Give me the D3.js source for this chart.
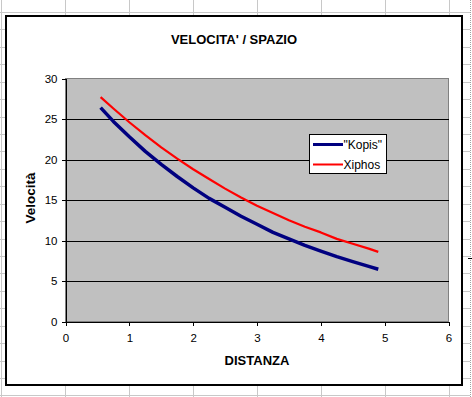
<!DOCTYPE html>
<html>
<head>
<meta charset="utf-8">
<script src="https://cdn.jsdelivr.net/npm/d3@7"></script>
<style>
  html, body { margin: 0; padding: 0; background: #fff; }
  svg { display: block; }
  text { font-family: Arial, "Liberation Sans", sans-serif; }
</style>
</head>
<body>
<script>
// ---- data ----
const distanza = [0.55, 0.75, 1.0, 1.25, 1.5, 1.75, 2.0, 2.25, 2.5, 2.75, 3.0, 3.25, 3.5, 3.75, 4.0, 4.25, 4.5, 4.75, 4.9];
const kopis    = [26.4, 24.7, 22.8, 21.0, 19.4, 17.9, 16.5, 15.2, 14.1, 13.0, 12.0, 11.0, 10.2, 9.4, 8.7, 8.0, 7.4, 6.8, 6.45];
const xiphos   = [27.7, 26.3, 24.6, 23.0, 21.5, 20.1, 18.8, 17.6, 16.4, 15.3, 14.3, 13.4, 12.5, 11.7, 11.0, 10.2, 9.6, 9.0, 8.6];
const seriesNames = ['"Kopis"', 'Xiphos'];
const seriesColors = ['#000080', '#FF0000'];
const xTicks = [0, 1, 2, 3, 4, 5, 6];
const yTicks = [0, 5, 10, 15, 20, 25, 30];
const chartTitle = "VELOCITA' / SPAZIO";
const xTitle = "DISTANZA";
const yTitle = "Velocità";

(function () {
const W = 472, H = 397;
const svg = d3.select("body").append("svg").attr("width", W).attr("height", H);

// ---- spreadsheet background grid ----
const bg = svg.append("g").attr("shape-rendering", "crispEdges");
d3.range(0, 8).forEach(k => {
  const xx = 1.5 + 64 * k;
  bg.append("line").attr("x1", xx).attr("x2", xx).attr("y1", 0).attr("y2", H)
    .attr("stroke", "#c8c8c8").attr("stroke-width", 1);
});
d3.range(0, 23).forEach(k => {
  const yy = Math.round(12 + 17.43 * k) + 0.5;
  bg.append("line").attr("x1", 0).attr("x2", 470).attr("y1", yy).attr("y2", yy)
    .attr("stroke", "#c8c8c8").attr("stroke-width", 1);
});
bg.append("line").attr("x1", 470.5).attr("x2", 470.5).attr("y1", 0).attr("y2", H)
  .attr("stroke", "#a0a0a0").attr("stroke-dasharray", "1,1");
bg.append("line").attr("x1", 468).attr("x2", 472).attr("y1", 258.5).attr("y2", 258.5)
  .attr("stroke", "#000");

// ---- chart area ----
svg.append("rect").attr("x", 6).attr("y", 16).attr("width", 456).attr("height", 369)
  .attr("fill", "#fff").attr("stroke", "#000").attr("stroke-width", 2)
  .attr("shape-rendering", "crispEdges");

const pL = 65.5, pR = 448.5, pT = 78.5, pB = 321.5;
const x = d3.scaleLinear().domain([0, 6]).range([pL, pR]);
const y = d3.scaleLinear().domain([0, 30]).range([pB, pT]);

// plot area
svg.append("rect").attr("x", pL).attr("y", pT).attr("width", pR - pL).attr("height", pB - pT)
  .attr("fill", "#C0C0C0").attr("stroke", "#808080").attr("stroke-width", 1)
  .attr("shape-rendering", "crispEdges");

// horizontal gridlines
svg.append("g").attr("shape-rendering", "crispEdges")
  .selectAll("line").data(yTicks.filter(d => d > 0 && d < 30)).join("line")
  .attr("x1", pL).attr("x2", pR)
  .attr("y1", d => Math.round(y(d)) + 0.5).attr("y2", d => Math.round(y(d)) + 0.5)
  .attr("stroke", "#000").attr("stroke-width", 1);

// axes
const yAxis = d3.axisLeft(y).tickValues(yTicks).tickSize(4).tickPadding(4).tickFormat(d3.format("d"));
const xAxis = d3.axisBottom(x).tickValues(xTicks).tickSize(4).tickPadding(8).tickFormat(d3.format("d"));
const gy = svg.append("g").attr("transform", `translate(${pL},0)`).call(yAxis);
const gx = svg.append("g").attr("transform", `translate(0,${pB})`).call(xAxis);
[gx, gy].forEach(g => {
  g.attr("shape-rendering", "crispEdges");
  g.select(".domain").attr("stroke", "#000");
  g.selectAll(".tick line").attr("stroke", "#000");
  g.selectAll(".tick text").attr("font-size", "11.5px").attr("fill", "#000")
    .style("font-family", "Arial, 'Liberation Sans', sans-serif");
});

// series
const line = d3.line().x(d => x(d[0])).y(d => y(d[1]));
const dataK = distanza.map((d, i) => [d, kopis[i]]);
const dataX = distanza.map((d, i) => [d, xiphos[i]]);
svg.append("path").datum(dataK).attr("d", line).attr("fill", "none")
  .attr("stroke", seriesColors[0]).attr("stroke-width", 3.5).attr("stroke-linejoin", "round");
svg.append("path").datum(dataX).attr("d", line).attr("fill", "none")
  .attr("stroke", seriesColors[1]).attr("stroke-width", 2.2).attr("stroke-linejoin", "round");

// titles
svg.append("text").attr("x", 234).attr("y", 44).attr("text-anchor", "middle")
  .attr("font-size", "13px").attr("font-weight", "bold").text(chartTitle);
svg.append("text").attr("x", 257).attr("y", 365).attr("text-anchor", "middle")
  .attr("font-size", "13px").attr("font-weight", "bold").text(xTitle);
svg.append("text").attr("transform", "translate(35,198) rotate(-90)").attr("text-anchor", "middle")
  .attr("font-size", "13.5px").attr("font-weight", "bold").text(yTitle);

// legend
const lg = svg.append("g");
lg.append("rect").attr("x", 309.5).attr("y", 134.5).attr("width", 77).attr("height", 39)
  .attr("fill", "#fff").attr("stroke", "#000").attr("stroke-width", 1).attr("shape-rendering", "crispEdges");
seriesNames.forEach((n, i) => {
  const yy = 144.5 + i * 20;
  lg.append("line").attr("x1", 313).attr("x2", 343).attr("y1", yy).attr("y2", yy)
    .attr("stroke", seriesColors[i]).attr("stroke-width", i === 0 ? 3 : 2);
  lg.append("text").attr("x", 343.5).attr("y", yy + 4.5).attr("font-size", "12px").text(n);
});
})();
</script>
</body>
</html>
